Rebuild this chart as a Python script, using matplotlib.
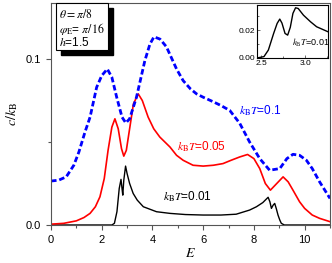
import matplotlib
matplotlib.use('Agg')
import matplotlib.pyplot as plt
from matplotlib.patches import Rectangle
from matplotlib.ticker import MultipleLocator, FormatStrFormatter

plt.rcParams['font.family'] = ['Liberation Sans', 'DejaVu Sans']
plt.rcParams['mathtext.fontset'] = 'stix'

# kBT = 0.1 (blue dashed)
E_01 = [0, 0.3, 0.6, 0.9, 1.1, 1.34, 1.54, 1.8, 2.0, 2.22, 2.4, 2.59, 2.8, 2.95, 3.1,
        3.37, 3.7, 3.9, 4.06, 4.3, 4.55, 4.95, 5.21, 5.5, 5.74, 6.0, 6.39, 6.7, 7.05,
        7.44, 7.83, 8.23, 8.62, 9.02, 9.3, 9.54, 9.8, 10.07, 10.3, 10.59, 11.0]
c_01 = [0.0265, 0.027, 0.029, 0.036, 0.044, 0.056, 0.065, 0.083, 0.090, 0.094, 0.089,
        0.077, 0.065, 0.0615, 0.064, 0.077, 0.099, 0.109, 0.1134, 0.112, 0.1074, 0.094,
        0.087, 0.082, 0.079, 0.077, 0.0743, 0.072, 0.069, 0.0613, 0.050, 0.040, 0.033,
        0.034, 0.040, 0.0426, 0.042, 0.039, 0.034, 0.026, 0.016]

# kBT = 0.05 (red)
E_005 = [0, 0.5, 1.0, 1.3, 1.54, 1.75, 1.93, 2.1, 2.25, 2.4, 2.52, 2.65, 2.78, 2.87,
         2.97, 3.1, 3.25, 3.44, 3.6, 3.83, 4.05, 4.29, 4.69, 4.95, 5.21, 5.6, 6.0, 6.4,
         6.78, 7.1, 7.44, 7.75, 8.0, 8.23, 8.45, 8.65, 8.9, 9.15, 9.35, 9.54, 9.8, 10.0,
         10.3, 10.59, 11.0]
c_005 = [0.0005, 0.001, 0.0025, 0.0045, 0.007, 0.011, 0.017, 0.028, 0.045, 0.059, 0.064,
         0.058, 0.046, 0.0415, 0.045, 0.058, 0.073, 0.079, 0.075, 0.065, 0.058, 0.053,
         0.047, 0.042, 0.039, 0.036, 0.0355, 0.036, 0.037, 0.039, 0.041, 0.0425, 0.040,
         0.034, 0.025, 0.021, 0.025, 0.029, 0.026, 0.021, 0.014, 0.010, 0.006, 0.004, 0.002]

# kBT = 0.01 (black)
E_001 = [0, 2.4, 2.5, 2.6, 2.69, 2.76, 2.8, 2.83, 2.87, 2.94, 3.0, 3.1, 3.24, 3.4, 3.64,
         4.16, 4.69, 5.3, 6.0, 6.7, 7.3, 7.83, 8.1, 8.35, 8.56, 8.63, 8.69, 8.76, 8.82,
         8.88, 8.95, 9.02, 9.08, 9.2, 11.0]
c_001 = [0, 0, 0.001, 0.008, 0.022, 0.0275, 0.022, 0.018, 0.027, 0.0355, 0.031, 0.025,
         0.019, 0.015, 0.011, 0.008, 0.007, 0.0063, 0.006, 0.006, 0.0065, 0.009, 0.011,
         0.0135, 0.0167, 0.014, 0.010, 0.012, 0.013, 0.010, 0.006, 0.003, 0.001, 0, 0]

# inset: kBT = 0.01 zoomed
E_in = [2.45, 2.53, 2.58, 2.64, 2.68, 2.71, 2.735, 2.77, 2.80, 2.83, 2.86, 2.89, 2.92,
        2.98, 3.06, 3.13, 3.26]
c_in = [0, 0.001, 0.0057, 0.0176, 0.0248, 0.0279, 0.025, 0.0176, 0.0164, 0.022, 0.032,
        0.036, 0.0355, 0.0307, 0.026, 0.0224, 0.0188]

spine_col = '#555555'

fig = plt.figure(figsize=(3.32, 2.63), dpi=100)
ax = fig.add_axes([0.1536, 0.1445, 0.8404, 0.8455])

ax.plot(E_001, c_001, color='black', lw=1.0)
ax.plot(E_005, c_005, color='#ff0000', lw=1.2)
ax.plot(E_01, c_01, color='#0000ff', lw=2.0, ls=(0, (2.0, 1.0)))

ax.set_xlim(0, 11)
ax.set_ylim(0, 0.134)
ax.xaxis.set_major_locator(MultipleLocator(2))
ax.xaxis.set_minor_locator(MultipleLocator(1))
ax.yaxis.set_major_locator(MultipleLocator(0.1))
ax.yaxis.set_minor_locator(MultipleLocator(0.05))
ax.yaxis.set_major_formatter(FormatStrFormatter('%.1f'))
ax.tick_params(which='both', direction='out', labelsize=8, color=spine_col, width=0.8)
ax.tick_params(which='major', length=3.5)
ax.tick_params(which='minor', length=2.5)
for s in ax.spines.values():
    s.set_color(spine_col)
    s.set_linewidth(0.8)

ax.set_xlabel('$E$', fontsize=10, labelpad=1)
ax.set_ylabel('$c/k_\\mathrm{B}$', fontsize=10, labelpad=4)

ax.text(7.4, 0.069, '$k_\\mathrm{B}T$=0.1', color='#0000ff', fontsize=8.5, va='center')
ax.text(4.95, 0.047, '$k_\\mathrm{B}T$=0.05', color='#ff0000', fontsize=8.5, va='center')
ax.text(4.4, 0.0168, '$k_\\mathrm{B}T$=0.01', color='black', fontsize=8.5, va='center')

# parameter box with shadow
box_l, box_b, box_w, box_h = 56 / 332, 1 - 50 / 263, 52 / 332, 47 / 263
fig.patches.append(Rectangle((box_l + 5 / 332, box_b - 5 / 263), box_w, box_h,
                             transform=fig.transFigure, facecolor='black',
                             edgecolor='black', zorder=5))
fig.patches.append(Rectangle((box_l, box_b), box_w, box_h, transform=fig.transFigure,
                             facecolor='white', edgecolor='black', lw=0.8, zorder=6))
fig.text(59 / 332, 1 - 15 / 263, '$\\theta = \\pi/8$', fontsize=8.5, va='center', zorder=7)
fig.text(59 / 332, 1 - 29 / 263, '$\\varphi_\\mathrm{E}$= $\\pi/16$', fontsize=8.5,
         va='center', zorder=7)
fig.text(59 / 332, 1 - 43 / 263, '$h$=1.5', fontsize=8.5, va='center', zorder=7)

# inset
axi = fig.add_axes([0.774, 0.7795, 0.214, 0.2015])
axi.plot(E_in, c_in, color='black', lw=1.0)
axi.set_xlim(2.45, 3.26)
axi.set_ylim(0, 0.038)
axi.xaxis.set_major_locator(MultipleLocator(0.5))
axi.xaxis.set_minor_locator(MultipleLocator(0.25))
axi.yaxis.set_major_locator(MultipleLocator(0.02))
axi.yaxis.set_minor_locator(MultipleLocator(0.01))
axi.yaxis.set_major_formatter(FormatStrFormatter('%.2f'))
axi.xaxis.set_major_formatter(FormatStrFormatter('%.1f'))
axi.tick_params(which='both', direction='in', labelsize=6, color=spine_col, width=0.6,
                pad=1.5)
axi.tick_params(which='major', length=2.5)
axi.tick_params(which='minor', length=1.5)
for s in axi.spines.values():
    s.set_color('black')
    s.set_linewidth(0.8)
axi.text(2.85, 0.011, '$k_\\mathrm{B}T$=0.01', fontsize=6.5, va='center')

fig.savefig('out.png', dpi=100)
